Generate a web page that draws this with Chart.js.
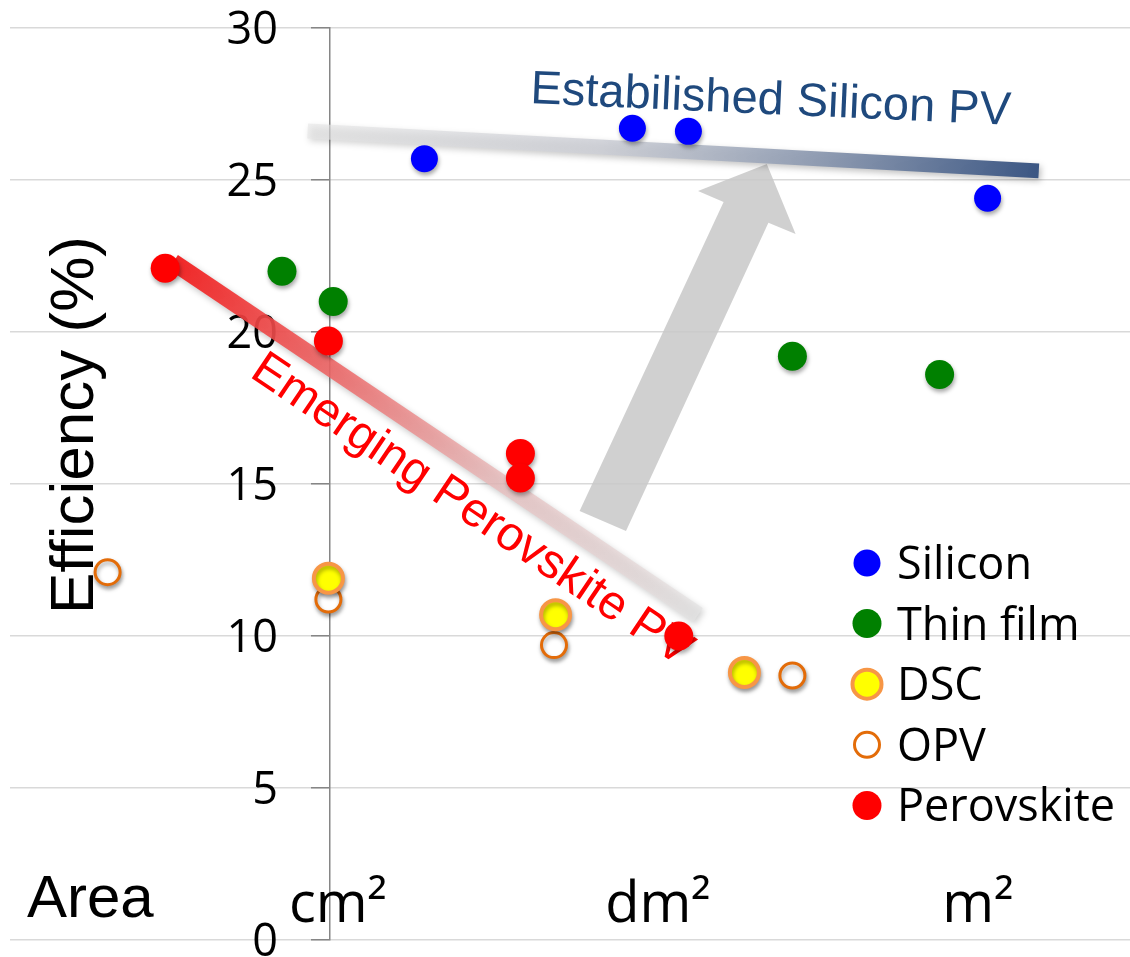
<!DOCTYPE html>
<html>
<head>
<meta charset="utf-8">
<script src="https://cdn.jsdelivr.net/npm/chart.js@4.4.1/dist/chart.umd.min.js"></script>
<style>
  html, body { margin: 0; padding: 0; background: #fff; }
  #wrap { width: 1130px; height: 957px; position: relative; }
</style>
</head>
<body>
<div id="wrap"><canvas id="chart"></canvas></div>
<script>
// x = log10 of cell area in cm2 (0 = cm2, 2 = dm2, 4 = m2), y = efficiency in %
const seriesNames = ['Silicon', 'Thin film', 'DSC', 'OPV', 'Perovskite'];

const siliconArea = [0.59, 1.89, 2.24, 4.11];
const siliconEff = [25.7, 26.7, 26.6, 24.4];

const thinFilmArea = [-0.30, 0.02, 2.89, 3.81];
const thinFilmEff = [22.0, 21.0, 19.2, 18.6];

const dscArea = [-0.01, 1.41, 2.59];
const dscEff = [11.9, 10.7, 8.8];

const opvArea = [-1.39, -0.01, 1.40, 2.89];
const opvEff = [12.1, 11.2, 9.7, 8.7];

const perovskiteArea = [-1.03, -0.01, 1.19, 1.19, 2.18];
const perovskiteEff = [22.1, 19.7, 16.0, 15.2, 10.0];

// area unit labels along the bottom
const unitLabels = ['cm²', 'dm²', 'm²'];
const unitPos = [0.05, 2.05, 4.05];

// trend annotations, in data units
const emergingBand = [[-0.98, 22.3], [2.30, 10.69]];
const siliconBand = [[-0.14, 26.61], [4.43, 25.30]];
const arrowShape = [[1.56, 14.11], [2.46, 24.28], [2.30, 24.64], [2.73, 25.53],
                    [2.91, 23.22], [2.74, 23.59], [1.85, 13.45]];

const toPoints = (xs, ys) => xs.map((x, i) => ({ x: x, y: ys[i] }));

const datasets = [
  { label: seriesNames[0], data: toPoints(siliconArea, siliconEff),
    backgroundColor: '#0000ff', borderColor: '#0000ff', pointRadius: 13.5, pointBorderWidth: 0 },
  { label: seriesNames[1], data: toPoints(thinFilmArea, thinFilmEff),
    backgroundColor: '#008000', borderColor: '#008000', pointRadius: 14.5, pointBorderWidth: 0 },
  { label: seriesNames[2], data: toPoints(dscArea, dscEff),
    backgroundColor: '#ffff00', borderColor: '#f79646', pointRadius: 14.5, pointBorderWidth: 4 },
  { label: seriesNames[3], data: toPoints(opvArea, opvEff),
    backgroundColor: '#ffffff', borderColor: '#e36c09', pointRadius: 12.5, pointBorderWidth: 3 },
  { label: seriesNames[4], data: toPoints(perovskiteArea, perovskiteEff),
    backgroundColor: '#ff0000', borderColor: '#ff0000', pointRadius: 14.5, pointBorderWidth: 0 },
];

// soft drop shadow under each marker
const shadowPlugin = {
  id: 'shadow',
  beforeDatasetDraw(chart) {
    const ctx = chart.ctx;
    ctx.save();
    ctx.shadowColor = 'rgba(0,0,0,0.35)';
    ctx.shadowBlur = 4;
    ctx.shadowOffsetX = 1;
    ctx.shadowOffsetY = 3;
  },
  afterDatasetDraw(chart) {
    chart.ctx.restore();
  }
};

// bands, arrow, rotated captions, titles and y tick labels
const annotationPlugin = {
  id: 'annotations',
  beforeDatasetsDraw(chart) {
    const ctx = chart.ctx;
    const sx = chart.scales.x, sy = chart.scales.y;
    const px = (p) => [sx.getPixelForValue(p[0]), sy.getPixelForValue(p[1])];
    const area = chart.chartArea;

    ctx.save();
    // y tick labels, left of the axis at x = 0
    const axisX = sx.getPixelForValue(0);
    ctx.fillStyle = '#000';
    ctx.font = '45px "Open Sans", sans-serif';
    ctx.textAlign = 'right';
    ctx.textBaseline = 'alphabetic';
    sy.ticks.forEach(t => {
      ctx.fillText(String(t.value), axisX - 52, sy.getPixelForValue(t.value) + 16);
    });

    // gray arrow
    ctx.fillStyle = 'rgba(200,200,200,0.85)';
    ctx.beginPath();
    arrowShape.forEach((p, i) => {
      const [x, y] = px(p);
      if (i === 0) ctx.moveTo(x, y); else ctx.lineTo(x, y);
    });
    ctx.closePath();
    ctx.fill();

    const band = (pts, width, stops) => {
      const [x1, y1] = px(pts[0]);
      const [x2, y2] = px(pts[1]);
      const g = ctx.createLinearGradient(x1, y1, x2, y2);
      stops.forEach(s => g.addColorStop(s[0], s[1]));
      ctx.save();
      ctx.shadowColor = 'rgba(0,0,0,0.25)';
      ctx.shadowBlur = 6;
      ctx.shadowOffsetX = 2;
      ctx.shadowOffsetY = 3;
      ctx.strokeStyle = g;
      ctx.lineWidth = width;
      ctx.lineCap = 'butt';
      ctx.beginPath();
      ctx.moveTo(x1, y1);
      ctx.lineTo(x2, y2);
      ctx.stroke();
      ctx.restore();
    };
    band(siliconBand, 15, [[0, 'rgba(230,230,230,0.6)'], [0.4, 'rgba(205,207,214,0.85)'],
                           [0.7, 'rgba(140,153,176,0.95)'], [1, '#3b5683']]);
    band(emergingBand, 17, [[0, 'rgba(242,30,30,0.95)'], [0.3, 'rgba(238,100,100,0.88)'],
                            [0.65, 'rgba(232,195,195,0.8)'], [1, 'rgba(228,228,228,0.7)']]);

    // rotated captions
    const caption = (text, at, deg, color, size) => {
      const [x, y] = px(at);
      ctx.save();
      ctx.translate(x, y);
      ctx.rotate(deg * Math.PI / 180);
      ctx.fillStyle = color;
      ctx.font = size + 'px "Liberation Sans", Arial, sans-serif';
      ctx.textAlign = 'left';
      ctx.textBaseline = 'alphabetic';
      ctx.fillText(text, 0, 0);
      ctx.restore();
    };
    caption('Estabilished Silicon PV', [1.25, 27.53], 2.6, '#1f497d', 47);
    caption('Emerging Perovskite PV', [-0.51, 18.55], 34, '#ff0000', 48);

    // axis title and area labels
    ctx.fillStyle = '#000';
    ctx.save();
    ctx.translate(area.left + 83, (area.top + area.bottom) / 2 - 59);
    ctx.rotate(-Math.PI / 2);
    ctx.font = '62px "Liberation Sans", Arial, sans-serif';
    ctx.textAlign = 'center';
    ctx.fillText('Efficiency (%)', 0, 0);
    ctx.restore();

    ctx.font = '60px "Liberation Sans", Arial, sans-serif';
    ctx.textAlign = 'left';
    ctx.fillText('Area', area.left + 17, area.bottom - 23);

    ctx.font = '56px "Open Sans", sans-serif';
    ctx.textAlign = 'center';
    unitLabels.forEach((t, i) => {
      ctx.fillText(t, sx.getPixelForValue(unitPos[i]), area.bottom - 18);
    });
    ctx.restore();
  }
};

// legend placed inside the plot, lower right
const legendPlugin = {
  id: 'insideLegend',
  afterDraw(chart) {
    const ctx = chart.ctx;
    const area = chart.chartArea;
    const mx = area.right - 263;
    const top = area.top + 535;
    const step = 60.6;
    ctx.save();
    chart.data.datasets.forEach((ds, i) => {
      const y = top + i * step;
      const r = ds.pointRadius;
      ctx.beginPath();
      ctx.arc(mx, y, r, 0, Math.PI * 2);
      ctx.fillStyle = ds.backgroundColor;
      ctx.fill();
      if (ds.pointBorderWidth > 0) {
        ctx.lineWidth = ds.pointBorderWidth;
        ctx.strokeStyle = ds.borderColor;
        ctx.stroke();
      }
      ctx.fillStyle = '#000';
      ctx.font = '45px "Open Sans", sans-serif';
      ctx.textAlign = 'left';
      ctx.textBaseline = 'alphabetic';
      ctx.fillText(ds.label, mx + 30, y + 16);
    });
    ctx.restore();
  }
};

new Chart(document.getElementById('chart'), {
  type: 'scatter',
  data: { datasets },
  options: {
    responsive: true,
    maintainAspectRatio: false,
    animation: false,
    events: [],
    layout: { autoPadding: false, padding: { left: 10, right: 0, top: 28, bottom: 17 } },
    elements: { point: { pointStyle: 'circle', hoverRadius: 0 } },
    plugins: {
      legend: { display: false },
      tooltip: { enabled: false },
    },
    scales: {
      x: { type: 'linear', min: -2, max: 5, display: false },
      y: {
        type: 'linear',
        min: 0,
        max: 30,
        position: { x: 0 },
        ticks: { stepSize: 5, display: false },
        grid: {
          color: '#d9d9d9',
          lineWidth: 1.5,
          tickLength: 18,
          tickColor: '#868686',
          tickWidth: 1.5,
        },
        border: { color: '#868686', width: 1.5 },
      },
    },
  },
  plugins: [shadowPlugin, annotationPlugin, legendPlugin],
});
</script>
</body>
</html>
